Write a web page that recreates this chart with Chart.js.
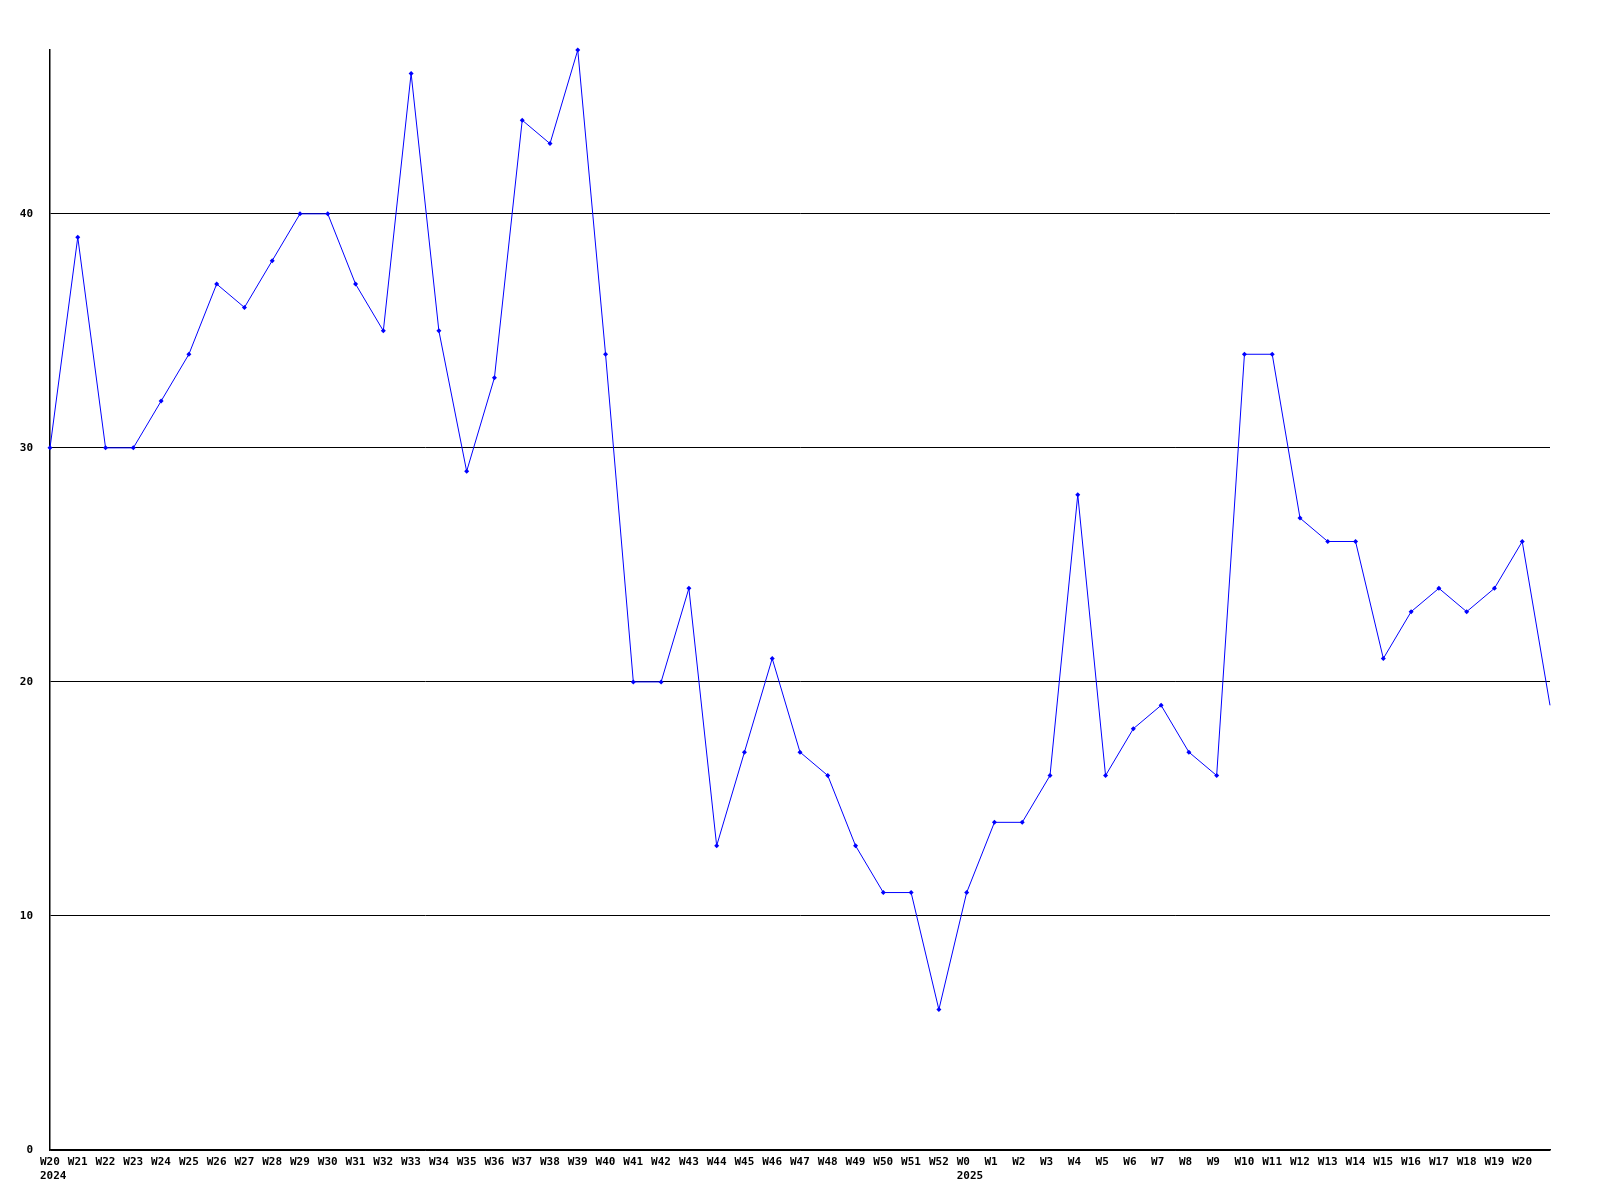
<!DOCTYPE html>
<html>
<head>
<meta charset="utf-8">
<style>
  html, body { margin: 0; padding: 0; background: #fff; }
  #chart { display: block; }
</style>
<script src="https://cdn.jsdelivr.net/npm/chart.js@4/dist/chart.umd.min.js"></script>
</head>
<body>
<canvas id="chart" width="1600" height="1200"></canvas>
<script>
// Week labels (year shown under first week of each year)
const weeks2024 = ['W20', 'W21', 'W22', 'W23', 'W24', 'W25', 'W26', 'W27', 'W28', 'W29', 'W30',
    'W31', 'W32', 'W33', 'W34', 'W35', 'W36', 'W37', 'W38', 'W39', 'W40', 'W41', 'W42',
    'W43', 'W44', 'W45', 'W46', 'W47', 'W48', 'W49', 'W50', 'W51', 'W52'];
const weeks2025 = ['W0', 'W1', 'W2', 'W3', 'W4', 'W5', 'W6', 'W7', 'W8', 'W9', 'W10',
    'W11', 'W12', 'W13', 'W14', 'W15', 'W16', 'W17', 'W18', 'W19', 'W20', ''];
const yearLabels = { 'W20': '2024', 'W0': '2025' };

const values = [30, 39, 30, 30, 32, 34, 37, 36, 38, 40, 40,
    37, 35, 46, 35, 29, 33, 44, 43, 47, 34, 20, 20,
    24, 13, 17, 21, 17, 16, 13, 11, 11, 6,
    11, 14, 14, 16, 28, 16, 18, 19, 17, 16, 34,
    34, 27, 26, 26, 21, 23, 24, 23, 24, 26, 19];

const yMax = 47;
const yStep = 10;

const labels = weeks2024.map(function(w, i) {
    return i === 0 ? [w, yearLabels[w]] : w;
}).concat(weeks2025.map(function(w, i) {
    return i === 0 ? [w, yearLabels[w]] : w;
}));

const tickFont = { family: "'DejaVu Sans Mono', monospace", size: 11, weight: 'bold' };

new Chart(document.getElementById('chart').getContext('2d'), {
    type: 'line',
    data: {
        labels: labels,
        datasets: [{
            data: values,
            borderColor: '#0000ff',
            backgroundColor: '#0000ff',
            borderWidth: 1,
            tension: 0,
            pointStyle: 'rectRot',
            pointRadius: function(ctx) {
                return ctx.dataIndex === values.length - 1 ? 0 : 2.5;
            },
            pointBorderWidth: 0,
            clip: false
        }]
    },
    options: {
        responsive: false,
        animation: false,
        layout: { padding: { top: 50, right: 50, left: 0, bottom: 0 } },
        plugins: {
            legend: { display: false },
            tooltip: { enabled: false }
        },
        scales: {
            x: {
                offset: false,
                grid: { display: false, drawTicks: false },
                border: { display: true, color: '#000', width: 1.5 },
                ticks: {
                    autoSkip: false,
                    maxRotation: 0,
                    minRotation: 0,
                    align: 'start',
                    labelOffset: -10,
                    padding: 6,
                    color: '#000',
                    font: tickFont
                },
                afterFit: function(scale) { scale.height = 50; }
            },
            y: {
                min: 0,
                max: yMax,
                grid: { color: '#000', lineWidth: 1, drawTicks: false },
                border: { display: true, color: '#000', width: 1.5 },
                ticks: {
                    stepSize: yStep,
                    padding: 17,
                    color: '#000',
                    font: tickFont
                },
                afterBuildTicks: function(axis) {
                    axis.ticks = axis.ticks.filter(function(t) { return t.value % yStep === 0; });
                },
                afterFit: function(scale) { scale.width = 50; }
            }
        }
    }
});
</script>
</body>
</html>
